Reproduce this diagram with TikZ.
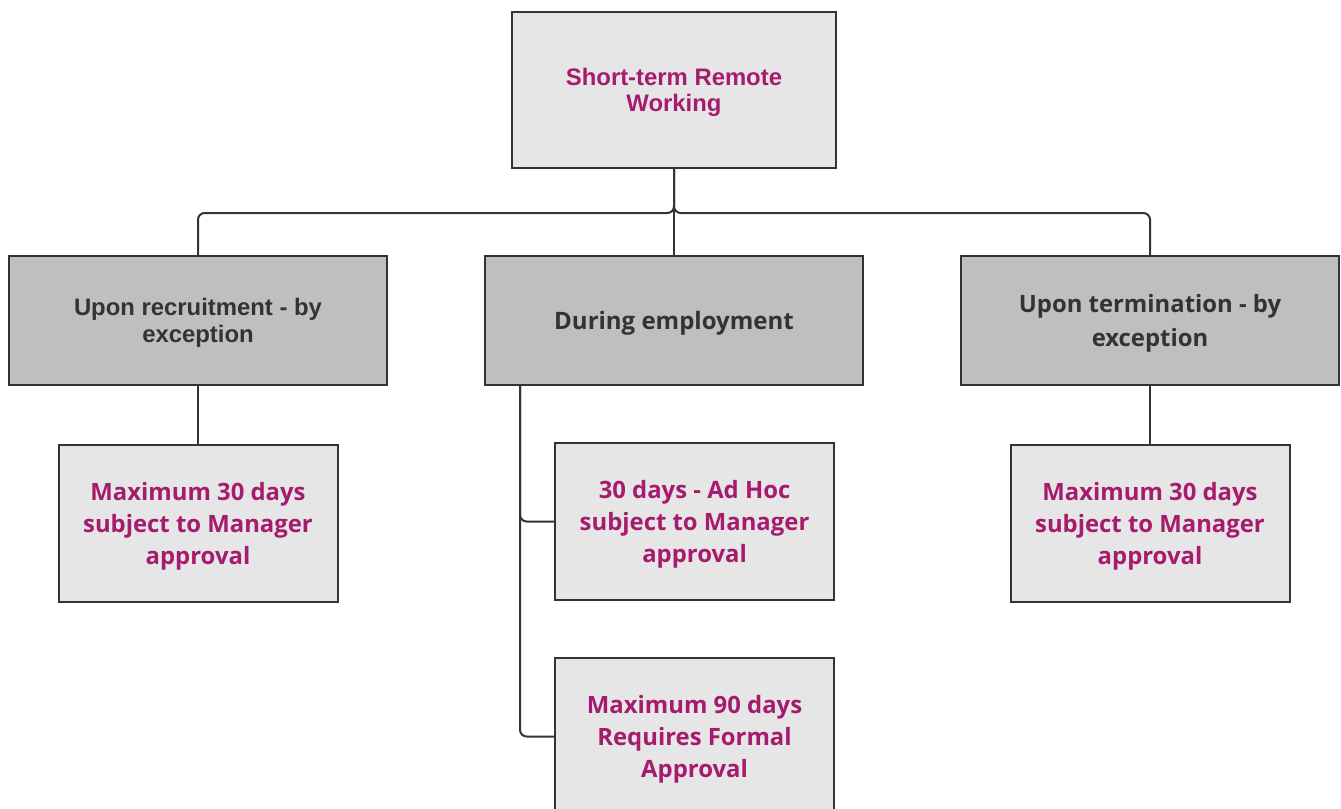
\documentclass[tikz,border=0pt]{standalone}
\usepackage{fontspec}
\setmainfont{Open Sans}
\newfontfamily\arialfont{Liberation Sans}
\usepackage{tikz}
\usetikzlibrary{positioning}
\usepackage{xcolor}
\definecolor{plum}{HTML}{A61B6E}
\definecolor{inkgray}{HTML}{333333}
\definecolor{lightfill}{HTML}{E6E6E6}
\definecolor{darkfill}{HTML}{BFBFBF}

\begin{document}
\begin{tikzpicture}[x=0.75pt, y=0.75pt,
	box/.style={rectangle, draw=inkgray, line width=1.5pt, align=center, text centered, inner sep=0pt, text depth=0pt},
	rootbox/.style={box, fill=lightfill, text=plum, minimum width=243pt, minimum height=117pt, font=\arialfont\bfseries\fontsize{17.9}{20}\selectfont},
	stagebox/.style={box, fill=darkfill, text=inkgray, minimum width=283.5pt, minimum height=96.75pt, font=\bfseries\fontsize{18}{20}\selectfont},
	rulebox/.style={box, fill=lightfill, text=plum, minimum width=209.25pt, minimum height=117.75pt, font=\bfseries\fontsize{17.9}{24}\selectfont},
	link/.style={draw=inkgray, line width=1.5pt, rounded corners=5pt}]
	\useasboundingbox (0,0) rectangle (1341,-808);
	\node [rootbox] (root) at (674,-90) {Short-term Remote\\Working};
	\node [stagebox] (during) [below=64.5pt of root] {During employment};
	\node [stagebox, font=\arialfont\bfseries\fontsize{17.9}{20}\selectfont] (recruit) [below=64.5pt of root, xshift=-357pt] {Upon recruitment - by\\exception};
	\node [stagebox, font=\bfseries\fontsize{17.9}{25}\selectfont] (termin) [below=64.5pt of root, xshift=357pt] {Upon termination - by\\exception};
	
	\node [rulebox] (recmax) [below=43.5pt of recruit] {Maximum 30 days\\subject to Manager\\approval};
	\node [rulebox] (termmax) [below=43.5pt of termin] {Maximum 30 days\\subject to Manager\\approval};
	\node [rulebox] (adhoc) [below=42pt of during, xshift=15.4pt] {30 days - Ad Hoc\\subject to Manager\\approval};
	\node [rulebox] (formal) [below=42pt of adhoc] {Maximum 90 days\\Requires Formal\\Approval};
	
	\coordinate (bus) at ([yshift=-33pt]root.south);
	\coordinate (trunk) at ([xshift=27pt]during.south west);
	
	\draw [link] (root.south) -- (during.north);
	\draw [link] (root.south) -- (bus) -| (recruit.north);
	\draw [link] (root.south) -- (bus) -| (termin.north);
	\draw [link] (recruit) -- (recmax);
	\draw [link] (termin) -- (termmax);
	\draw [link] (trunk) |- (adhoc.west);
	\draw [link] (trunk) |- (formal.west);
\end{tikzpicture}
\end{document}
